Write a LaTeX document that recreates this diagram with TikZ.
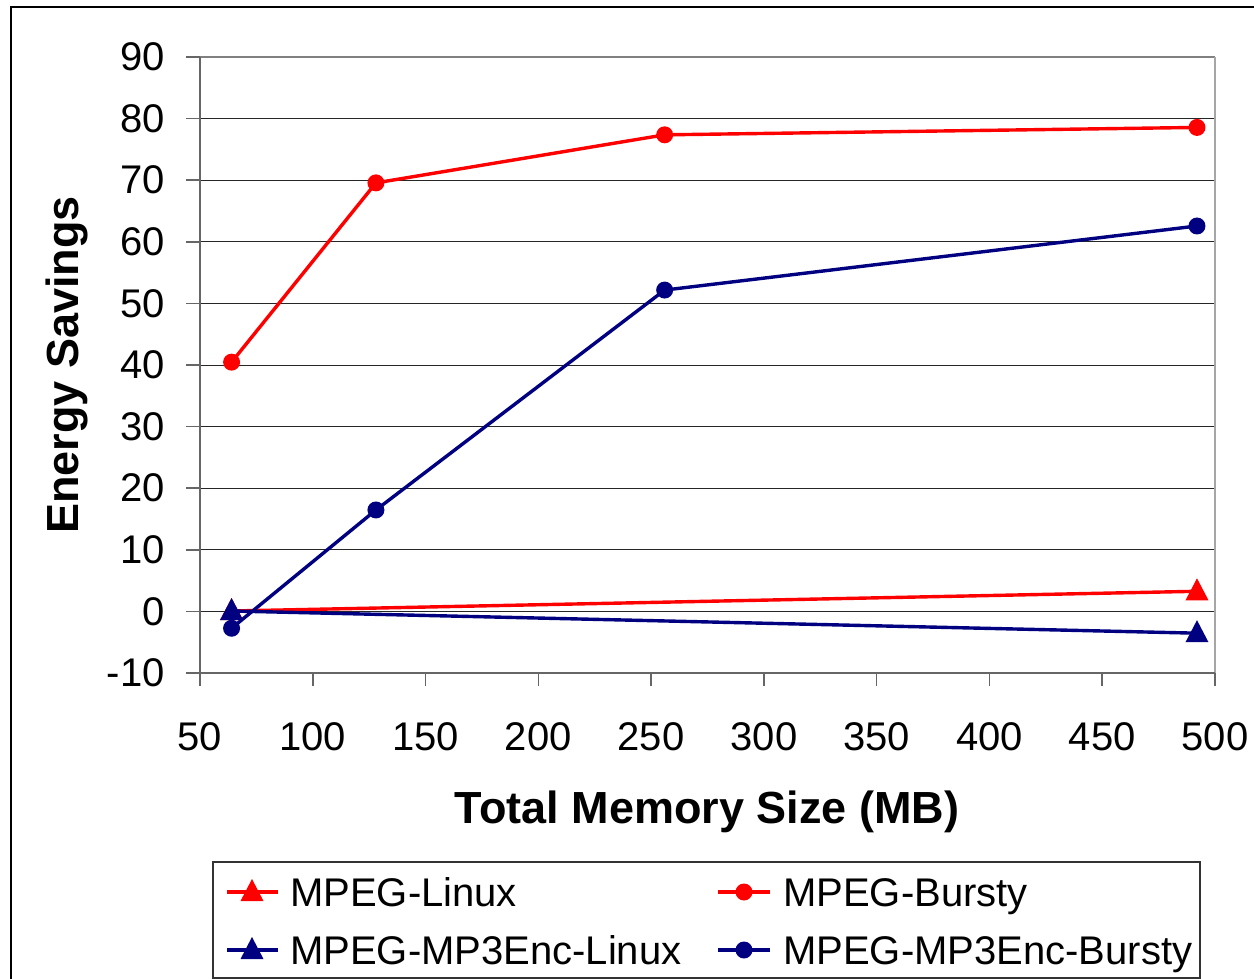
\documentclass[tikz,border=0pt]{standalone}
\usepackage{fontspec}
\setmainfont{Liberation Sans}
\definecolor{mred}{RGB}{255,0,0}
\definecolor{mnavy}{RGB}{0,0,128}
\begin{document}
\begin{tikzpicture}[x=1bp,y=-1bp,
  ticklbl/.style={inner sep=0pt,font=\fontsize{40bp}{48bp}\selectfont},
  axtitle/.style={inner sep=0pt,font=\fontsize{45bp}{52bp}\selectfont\bfseries},
  leglbl/.style={inner sep=0pt,anchor=base west,font=\fontsize{40bp}{48bp}\selectfont},
  grid/.style={black!85,line width=1bp},
  axisline/.style={black!60,line width=1.6bp},
  series/.style={line width=3.4bp,line join=round}]
\useasboundingbox (0,0) rectangle (1254,979);
% outer chart frame
\draw[black,line width=1.3bp] (11,979) -- (11,7) -- (1254,7);
% grid lines and y ticks
\foreach \k in {1,...,9}{
  \draw[grid] (200,{57+61.6*\k}) -- (1215,{57+61.6*\k});
}
\foreach \k in {0,...,10}{
  \draw[axisline] (186,{57+61.6*\k}) -- (200,{57+61.6*\k});
  \pgfmathtruncatemacro{\lab}{90-10*\k}
  \node[ticklbl,anchor=east] (yl\k) at (165,{57+61.6*\k}) {\lab};
}
% plot border
\draw[black!50,line width=1.6bp] (200,57) -- (1215,57);
\draw[black!35,line width=2bp] (1215,57) -- (1215,673);
% axes
\draw[axisline] (200,57) -- (200,686);
\draw[axisline] (200,673) -- (1215,673);
\foreach \k in {0,...,9}{
  \draw[axisline] ({200+112.78*\k},673) -- ({200+112.78*\k},686);
  \pgfmathtruncatemacro{\lab}{50+50*\k}
  \node[ticklbl,anchor=north] (xl\k) at ({200+112.78*\k},722) {\lab};
}
% axis titles
\node[axtitle,anchor=base] (xt) at (707,823) {Total Memory Size (MB)};
\node[axtitle,anchor=base,rotate=90] (yt) at (78,365) {Energy Savings};
% data coordinates
\begin{scope}[shift={(200,611)},x=2.2556bp,y=6.16bp]
  \coordinate (l1) at (14,0);
  \coordinate (l2) at (442,3.2);
  \coordinate (b1) at (14,40.4);
  \coordinate (b2) at (78,69.5);
  \coordinate (b3) at (206,77.3);
  \coordinate (b4) at (442,78.5);
  \coordinate (m1) at (14,0);
  \coordinate (m2) at (442,-3.6);
  \coordinate (n1) at (14,-2.8);
  \coordinate (n2) at (78,16.4);
  \coordinate (n3) at (206,52.1);
  \coordinate (n4) at (442,62.5);
\end{scope}
\newcommand\trimark[2]{\fill[#2] (#1) ++(0bp,13bp) -- ++(11.5bp,-22bp) -- ++(-23bp,0bp) -- cycle;}
\newcommand\dotmark[2]{\fill[#2] (#1) circle (8.5bp);}
% series 1: MPEG-Linux
\draw[series,mred] (l1) -- (l2);
\trimark{l1}{mred}\trimark{l2}{mred}
% series 2: MPEG-Bursty
\draw[series,mred] (b1) -- (b2) -- (b3) -- (b4);
\foreach \p in {b1,b2,b3,b4}{\dotmark{\p}{mred}}
% series 3: MPEG-MP3Enc-Linux
\draw[series,mnavy] (m1) -- (m2);
\trimark{m1}{mnavy}\trimark{m2}{mnavy}
% series 4: MPEG-MP3Enc-Bursty
\draw[series,mnavy] (n1) -- (n2) -- (n3) -- (n4);
\foreach \p in {n1,n2,n3,n4}{\dotmark{\p}{mnavy}}
% legend
\draw[black!80,line width=1.2bp,fill=white] (213,862) rectangle (1200,978);
\coordinate (ga) at (227,892); \coordinate (gb) at (278,892); \coordinate (gm) at (252,892);
\draw[series,mred] (ga) -- (gb); \trimark{gm}{mred}
\node[leglbl] (lg1) at (290,906) {MPEG-Linux};
\coordinate (ha) at (227,950); \coordinate (hb) at (278,950); \coordinate (hm) at (252,950);
\draw[series,mnavy] (ha) -- (hb); \trimark{hm}{mnavy}
\node[leglbl] (lg3) at (290,964) {MPEG-MP3Enc-Linux};
\coordinate (ia) at (718,892); \coordinate (ib) at (770,892); \coordinate (im) at (744,892);
\draw[series,mred] (ia) -- (ib); \dotmark{im}{mred}
\node[leglbl] (lg2) at (783,906) {MPEG-Bursty};
\coordinate (ja) at (718,950); \coordinate (jb) at (770,950); \coordinate (jm) at (744,950);
\draw[series,mnavy] (ja) -- (jb); \dotmark{jm}{mnavy}
\node[leglbl] (lg4) at (783,964) {MPEG-MP3Enc-Bursty};
\end{tikzpicture}
\end{document}
